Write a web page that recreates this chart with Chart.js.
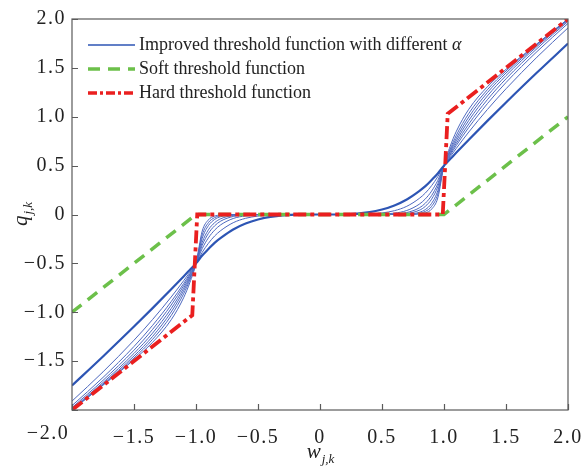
<!DOCTYPE html>
<html>
<head>
<meta charset="utf-8">
<script src="https://cdn.jsdelivr.net/npm/chart.js@4.4.1/dist/chart.umd.min.js"></script>
<style>
  html, body { margin: 0; padding: 0; background: #ffffff; }
  #wrap { width: 584px; height: 469px; }
</style>
</head>
<body>
<div id="wrap"><canvas id="c" width="584" height="469"></canvas></div>
<script>
// ---- data ----
const W = [-2,-1.75,-1.5,-1.35,-1.2,-1.1,-1.05,-1,-0.95,-0.9,-0.85,-0.8,-0.7,-0.6,-0.5,-0.4,-0.2,0,0.2,0.4,0.5,0.6,0.7,0.8,0.85,0.9,0.95,1,1.05,1.1,1.2,1.35,1.5,1.75,2];

const improvedA = [-1.749,-1.452,-1.146,-0.958,-0.765,-0.634,-0.567,-0.5,-0.42,-0.353,-0.29,-0.24,-0.154,-0.093,-0.051,-0.024,-0.002,0,0.002,0.024,0.051,0.093,0.154,0.24,0.29,0.353,0.42,0.5,0.567,0.634,0.765,0.958,1.146,1.452,1.749];
const improvedB = [-1.909,-1.61,-1.286,-1.074,-0.844,-0.678,-0.591,-0.5,-0.387,-0.295,-0.22,-0.164,-0.084,-0.039,-0.016,-0.005,0,0,0,0.005,0.016,0.039,0.084,0.164,0.22,0.295,0.387,0.5,0.591,0.678,0.844,1.074,1.286,1.61,1.909];
const improvedC = [-1.955,-1.667,-1.35,-1.134,-0.891,-0.707,-0.607,-0.5,-0.349,-0.239,-0.16,-0.105,-0.041,-0.014,-0.004,-0.001,0,0,0,0.001,0.004,0.014,0.041,0.105,0.16,0.239,0.349,0.5,0.607,0.707,0.891,1.134,1.35,1.667,1.955];
const improvedD = [-1.975,-1.697,-1.388,-1.175,-0.926,-0.73,-0.62,-0.5,-0.315,-0.194,-0.116,-0.067,-0.02,-0.005,-0.001,0,0,0,0,0,0.001,0.005,0.02,0.067,0.116,0.194,0.315,0.5,0.62,0.73,0.926,1.175,1.388,1.697,1.975];
const improvedE = [-1.988,-1.719,-1.421,-1.213,-0.962,-0.755,-0.635,-0.5,-0.284,-0.157,-0.084,-0.043,-0.01,-0.002,0,0,0,0,0,0,0,0.002,0.01,0.043,0.084,0.157,0.284,0.5,0.635,0.755,0.962,1.213,1.421,1.719,1.988];
const improvedF = [-1.994,-1.733,-1.447,-1.247,-0.997,-0.781,-0.651,-0.5,-0.244,-0.114,-0.051,-0.022,-0.003,0,0,0,0,0,0,0,0,0,0.003,0.022,0.051,0.114,0.244,0.5,0.651,0.781,0.997,1.247,1.447,1.733,1.994];
const improvedG = [-1.998,-1.742,-1.468,-1.277,-1.034,-0.812,-0.67,-0.5,-0.209,-0.083,-0.032,-0.011,-0.001,0,0,0,0,0,0,0,0,0,0.001,0.011,0.032,0.083,0.209,0.5,0.67,0.812,1.034,1.277,1.468,1.742,1.998];
const improvedH = [-2,-1.747,-1.485,-1.307,-1.077,-0.852,-0.698,-0.5,-0.17,-0.055,-0.016,-0.005,0,0,0,0,0,0,0,0,0,0,0,0.005,0.016,0.055,0.17,0.5,0.698,0.852,1.077,1.307,1.485,1.747,2];

const softW = [-2,-1,1,2];
const softQ = [-1,0,0,1];
const hardW = [-2,-1.03,-0.99,0.99,1.03,2];
const hardQ = [-2,-1.03,0,0,1.03,2];

const tickValues = [-2,-1.5,-1,-0.5,0,0.5,1,1.5,2];
const legendLabels = ['Improved threshold function with different ', 'Soft threshold function', 'Hard threshold function'];
const xTitle = ['w', 'j,k'];
const yTitle = ['q', 'j,k'];

// ---- helpers ----
const pts = (xs, ys) => xs.map((x, i) => ({x: x, y: ys[i]}));
const fmt = v => v === 0 ? '0' : (v < 0 ? '\u2212' : '') + Math.abs(v).toFixed(1);
const SERIF = '"Liberation Serif", "Times New Roman", serif';
const SPACING = '1.5px';
const BLUE = '#2d55b4';
const THIN = '#4d68bf';
const GREEN = '#6cc04a';
const RED = '#ea1f1f';

const thinSets = [improvedB, improvedC, improvedD, improvedE, improvedF, improvedG, improvedH].map(arr => ({
  data: pts(W, arr), borderColor: THIN, borderWidth: 1, pointRadius: 0,
  cubicInterpolationMode: 'monotone', fill: false
}));

const deco = {
  id: 'deco',
  beforeDraw(chart) {
    chart.ctx.letterSpacing = SPACING;
  },
  afterDraw(chart) {
    const ctx = chart.ctx, a = chart.chartArea, xs = chart.scales.x, ys = chart.scales.y;
    ctx.save();
    ctx.letterSpacing = '0px';
    // frame
    ctx.strokeStyle = '#5a5a5a';
    ctx.lineWidth = 1.2;
    ctx.setLineDash([]);
    ctx.strokeRect(a.left, a.top, a.right - a.left, a.bottom - a.top);
    // inward ticks
    ctx.beginPath();
    tickValues.forEach(v => {
      const px = Math.round(xs.getPixelForValue(v)) + 0.5;
      ctx.moveTo(px, a.bottom); ctx.lineTo(px, a.bottom - 6);
      const py = Math.round(ys.getPixelForValue(v)) + 0.5;
      ctx.moveTo(a.left, py); ctx.lineTo(a.left + 6, py);
    });
    ctx.stroke();
    // x label for -2.0 (offset left as in reference)
    ctx.fillStyle = '#222';
    ctx.font = '20px ' + SERIF;
    ctx.letterSpacing = SPACING;
    ctx.textAlign = 'center';
    ctx.textBaseline = 'middle';
    ctx.fillText(fmt(-2), 48, 434);
    ctx.letterSpacing = '0px';
    // legend
    const rows = [45, 69, 93];
    const x0 = 88, x1 = 135;
    ctx.lineCap = 'butt';
    ctx.strokeStyle = BLUE; ctx.lineWidth = 1.6; ctx.setLineDash([]);
    ctx.beginPath(); ctx.moveTo(x0, rows[0]); ctx.lineTo(x1, rows[0]); ctx.stroke();
    ctx.strokeStyle = GREEN; ctx.lineWidth = 3.5; ctx.setLineDash([12, 8]);
    ctx.beginPath(); ctx.moveTo(x0, rows[1]); ctx.lineTo(x1, rows[1]); ctx.stroke();
    ctx.strokeStyle = RED; ctx.lineWidth = 3.5; ctx.setLineDash([9, 3, 3, 3]);
    ctx.beginPath(); ctx.moveTo(x0, rows[2]); ctx.lineTo(x1, rows[2]); ctx.stroke();
    ctx.setLineDash([]);
    ctx.textAlign = 'left';
    ctx.textBaseline = 'middle';
    ctx.fillStyle = '#222';
    ctx.font = '18px ' + SERIF;
    ctx.fillText(legendLabels[0], 139, rows[0]);
    const wd = ctx.measureText(legendLabels[0]).width;
    ctx.font = 'italic 18px ' + SERIF;
    ctx.fillText('\u03b1', 139 + wd, rows[0]);
    ctx.font = '18px ' + SERIF;
    ctx.fillText(legendLabels[1], 139, rows[1]);
    ctx.fillText(legendLabels[2], 139, rows[2]);
    // axis titles with subscripts
    ctx.textBaseline = 'alphabetic';
    ctx.font = 'italic 21px ' + SERIF;
    const cx = (a.left + a.right) / 2;
    const wW = ctx.measureText(xTitle[0]).width;
    ctx.font = 'italic 13px ' + SERIF;
    const sW = ctx.measureText(xTitle[1]).width;
    let sx = cx - (wW + sW) / 2;
    ctx.font = 'italic 21px ' + SERIF;
    ctx.fillText(xTitle[0], sx, 458);
    ctx.font = 'italic 13px ' + SERIF;
    ctx.fillText(xTitle[1], sx + wW + 1, 463);
    // y title rotated
    ctx.save();
    const cy = (a.top + a.bottom) / 2;
    ctx.translate(27, cy);
    ctx.rotate(-Math.PI / 2);
    ctx.font = 'italic 21px ' + SERIF;
    const qW = ctx.measureText(yTitle[0]).width;
    ctx.font = 'italic 13px ' + SERIF;
    const qsW = ctx.measureText(yTitle[1]).width;
    sx = -(qW + qsW) / 2;
    ctx.font = 'italic 21px ' + SERIF;
    ctx.fillText(yTitle[0], sx, 0);
    ctx.font = 'italic 13px ' + SERIF;
    ctx.fillText(yTitle[1], sx + qW + 1, 5);
    ctx.restore();
    ctx.restore();
  }
};

new Chart(document.getElementById('c'), {
  type: 'line',
  data: {
    datasets: [
      { label: 'Hard threshold function', data: pts(hardW, hardQ), borderColor: RED, borderWidth: 3.8,
        borderDash: [13, 4, 4, 4], pointRadius: 0, tension: 0, fill: false },
      { label: 'Soft threshold function', data: pts(softW, softQ), borderColor: GREEN, borderWidth: 3.5,
        borderDash: [12, 8], pointRadius: 0, tension: 0, fill: false },
      { label: 'Improved threshold function', data: pts(W, improvedA), borderColor: BLUE, borderWidth: 2.2,
        pointRadius: 0, cubicInterpolationMode: 'monotone', fill: false },
      ...thinSets
    ]
  },
  options: {
    responsive: false,
    animation: false,
    layout: { padding: { left: 0, right: 16, top: 19, bottom: 0 } },
    plugins: { legend: { display: false }, tooltip: { enabled: false } },
    scales: {
      x: {
        type: 'linear', min: -2, max: 2,
        grid: { display: false, drawTicks: false },
        border: { display: false },
        afterFit: s => { s.height = 59; s.paddingLeft = 0; s.paddingRight = 0; },
        afterBuildTicks: s => { s.ticks = tickValues.map(v => ({ value: v })); },
        ticks: {
          color: '#222', padding: 16, maxRotation: 0, autoSkip: false,
          font: { family: SERIF, size: 20 },
          callback: v => v === -2 ? '' : fmt(v)
        }
      },
      y: {
        type: 'linear', min: -2, max: 2,
        grid: { display: false, drawTicks: false },
        border: { display: false },
        afterFit: s => { s.width = 72; s.paddingTop = 0; s.paddingBottom = 0; },
        afterBuildTicks: s => { s.ticks = tickValues.map(v => ({ value: v })); },
        ticks: {
          color: '#222', padding: 6, autoSkip: false,
          font: { family: SERIF, size: 20 },
          callback: v => v === -2 ? '' : fmt(v)
        }
      }
    }
  },
  plugins: [deco]
});
</script>
</body>
</html>
